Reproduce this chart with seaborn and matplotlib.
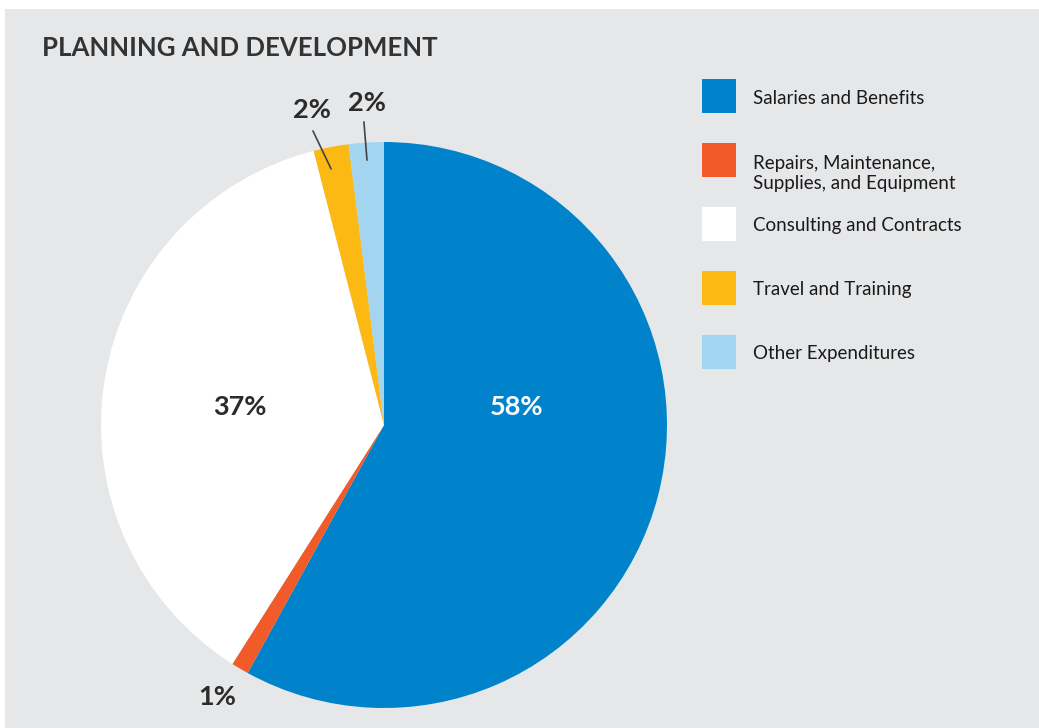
import matplotlib
matplotlib.use("Agg")
import matplotlib.pyplot as plt
from matplotlib.patches import Rectangle
import seaborn as sns

# Expenditure breakdown for the Planning and Development department
categories = [
    "Salaries and Benefits",
    "Repairs, Maintenance,\nSupplies, and Equipment",
    "Consulting and Contracts",
    "Travel and Training",
    "Other Expenditures",
]
shares = [58, 1, 37, 2, 2]
pct_labels = ["58%", "1%", "37%", "2%", "2%"]
colors = ["#0083CA", "#F15A29", "#FFFFFF", "#FDB913", "#A3D4F0"]

title = "PLANNING AND DEVELOPMENT"

BG = "#E6E7E9"
DARK = "#2B2B2B"

sns.set_style("white")
plt.rcParams["font.family"] = ["Lato", "DejaVu Sans"]

W, H = 1039, 728
fig = plt.figure(figsize=(W / 100, H / 100), dpi=100)
fig.patch.set_facecolor("white")

# grey panel behind everything
panel = fig.add_axes([5 / W, 0, 1 - 5 / W, 1 - 9 / H])
panel.set_facecolor(BG)
panel.set_xticks([])
panel.set_yticks([])
for s in panel.spines.values():
    s.set_visible(False)

# pie axes: centre (384, 425) px, radius 283 px
cx, cy, r = 384, 425, 283
ax = fig.add_axes([(cx - r) / W, (H - cy - r) / H, 2 * r / W, 2 * r / H])
ax.set_facecolor("none")
ax.axis("off")
wedges, _ = ax.pie(
    shares,
    colors=colors,
    startangle=90,
    counterclock=False,
    radius=1.0,
    wedgeprops=dict(linewidth=0),
)
ax.set_xlim(-1, 1)
ax.set_ylim(-1, 1)

# percentage labels (axes data units, radius = 1)
label_pos = [(0.47, 0.062), (-0.59, -0.962), (-0.509, 0.062), (-0.255, 1.113), (-0.062, 1.138)]
label_col = ["white", DARK, DARK, DARK, DARK]
for txt, (lx, ly), c in zip(pct_labels, label_pos, label_col):
    ax.text(lx, ly, txt, ha="center", va="center", fontsize=19.5,
            fontweight="bold", color=c, clip_on=False)

# leader lines for the two thin slices
leaders = {3: ((-0.251, 1.039), (-0.187, 0.905)),
           4: ((-0.071, 1.071), (-0.060, 0.936))}
for i, (p0, p1) in leaders.items():
    ax.annotate("", xy=p1, xytext=p0,
                arrowprops=dict(arrowstyle="-", color="#444444", lw=1.2,
                                shrinkA=0, shrinkB=0),
                annotation_clip=False)

# title
fig.text(42 / W, 1 - 48 / H, title, ha="left", va="center",
         fontsize=18.5, fontweight="bold", color="#333333")

# legend drawn in pixel coordinates
lg = fig.add_axes([0, 0, 1, 1])
lg.set_xlim(0, W)
lg.set_ylim(H, 0)
lg.axis("off")
key_top, key_step, key_size = 79, 64, 34
for i, (lab, c) in enumerate(zip(categories, colors)):
    y0 = key_top + i * key_step
    lg.add_patch(Rectangle((702, y0), key_size, key_size, facecolor=c, edgecolor="none"))
    if "\n" in lab:
        lg.text(753, y0 + 12, lab, ha="left", va="top", fontsize=13.5,
                color="#1A1A1A", linespacing=1.2)
    else:
        lg.text(753, y0 + key_size / 2 + 2, lab, ha="left", va="center",
                fontsize=13.5, color="#1A1A1A")

fig.savefig("out.png", dpi=100, facecolor=fig.get_facecolor())
